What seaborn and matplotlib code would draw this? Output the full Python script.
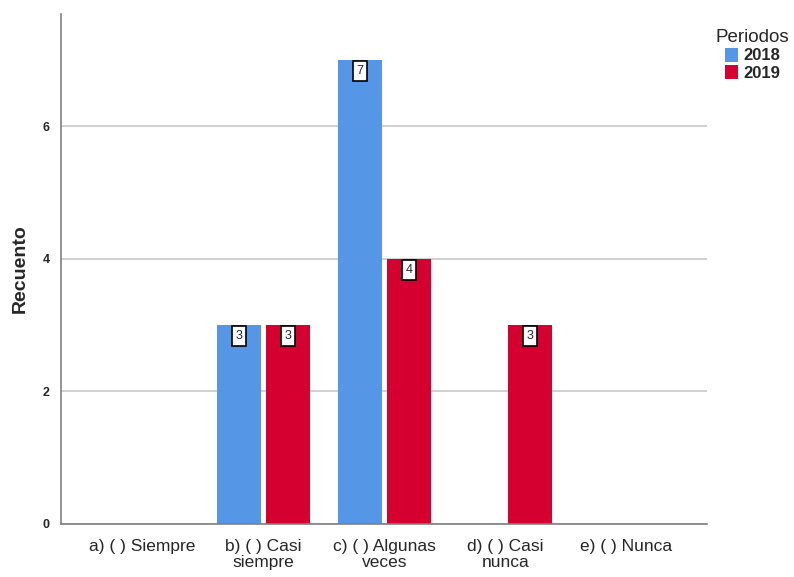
import pandas as pd
import matplotlib.pyplot as plt
import seaborn as sns

# Datos
categorias = ['a) ( ) Siempre', 'b) ( ) Casi\nsiempre', 'c) ( ) Algunas\nveces',
              'd) ( ) Casi\nnunca', 'e) ( ) Nunca']
periodos = ['2018', '2019']
valores_2018 = [0, 3, 7, 0, 0]
valores_2019 = [0, 3, 4, 3, 0]
colores = ['#5596E6', '#D5002F']

df = pd.DataFrame({
    'Categoria': categorias * 2,
    'Periodos': [periodos[0]] * len(categorias) + [periodos[1]] * len(categorias),
    'Recuento': valores_2018 + valores_2019,
})

sns.set_style('white')
plt.rcParams['font.family'] = ['Liberation Sans', 'DejaVu Sans']

fig = plt.figure(figsize=(7.94, 5.77), dpi=100)
ax = fig.add_axes([0.0768, 0.0919, 0.8136, 0.8838])

sns.barplot(data=df, x='Categoria', y='Recuento', hue='Periodos', order=categorias,
            hue_order=periodos, palette=colores, width=0.81, gap=0.1,
            saturation=1, edgecolor='none', ax=ax, legend=True)

ax.set_ylim(0, 7.69)
ax.set_xlim(-0.674, 4.665)
ax.set_yticks([0, 2, 4, 6])
ax.yaxis.grid(True, color='#c8c8c8', linewidth=1.2)
ax.set_axisbelow(True)
for lado in ['top', 'right']:
    ax.spines[lado].set_visible(False)
for lado in ['left', 'bottom']:
    ax.spines[lado].set_color('#808080')
    ax.spines[lado].set_linewidth(1.2)
ax.tick_params(axis='both', length=0)
ax.tick_params(axis='y', labelsize=9, pad=8)
ax.tick_params(axis='x', labelsize=12.5, pad=11)
for t in ax.get_yticklabels():
    t.set_fontweight('bold')
for t in ax.get_xticklabels():
    t.set_linespacing(1.05)
ax.set_xlabel('')
ax.set_ylabel('Recuento', fontsize=14, fontweight='bold', labelpad=10)

# etiquetas de valor dentro de una caja
for barra in ax.patches:
    h = barra.get_height()
    if h > 0:
        ax.annotate(f'{int(h)}', (barra.get_x() + barra.get_width() / 2, h),
                    xytext=(0, -8), textcoords='offset points', ha='center', va='center',
                    fontsize=9,
                    bbox=dict(boxstyle='square,pad=0.3', fc='white', ec='black', lw=1.2))

leg = ax.legend(title='Periodos', loc='upper left', bbox_to_anchor=(0.99, 1.0),
                frameon=False, fontsize=12, title_fontsize=13.5, handlelength=0.8,
                handleheight=0.9, handletextpad=0.3, labelspacing=0.1)
for t in leg.get_texts():
    t.set_fontweight('bold')

fig.savefig('out.png', dpi=100)
